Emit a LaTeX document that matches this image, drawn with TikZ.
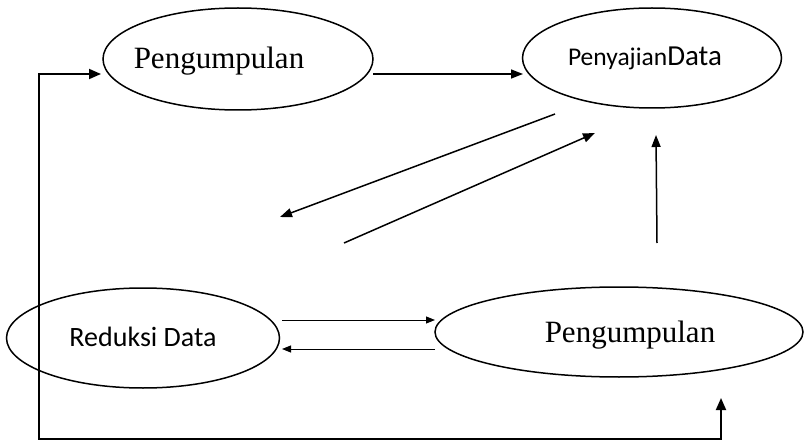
\documentclass[tikz,border=0pt]{standalone}
\usepackage{fontspec}
\setmainfont{Liberation Serif}
\newfontfamily\calib{Carlito}
\usetikzlibrary{shapes.geometric,arrows.meta}
\begin{document}
\begin{tikzpicture}[x=1pt,y=-1pt,
  oval/.style={draw,ellipse,line width=1.5pt,inner sep=0pt},
  conn/.style={line width=1.5pt,-{Triangle[length=12pt,width=9pt]}},
  thinconn/.style={line width=1pt,-{Triangle[length=9pt,width=7pt]}},
  lbl/.style={anchor=base,inner sep=0pt}]
\useasboundingbox (0,0) rectangle (804,441);
% ellipses
\node[oval,minimum width=270pt,minimum height=102pt] (e1) at (238,59) {};
\node[oval,minimum width=259pt,minimum height=100pt] (e2) at (652,58) {};
\node[oval,minimum width=273pt,minimum height=100pt] (e3) at (143,338) {};
\node[oval,minimum width=368pt,minimum height=90pt] (e4) at (619,332) {};
% labels
\node[lbl] (t1) at (219,69) {\fontsize{31}{31}\selectfont Pengumpulan};
\node[lbl] (t2) at (645,66) {\calib\fontsize{25.5}{25.5}\selectfont Penyajian\fontsize{29}{29}\selectfont Data};
\node[lbl] (t3) at (143,346) {\calib\fontsize{28}{28}\selectfont Reduksi Data};
\node[lbl] (t4) at (630,342) {\fontsize{31}{31}\selectfont Pengumpulan};
% coordinates
\coordinate (a1s) at (373,74);
\coordinate (a1e) at (523,74);
\coordinate (d1s) at (555,114);
\coordinate (d1e) at (280,217);
\coordinate (d2s) at (344,243);
\coordinate (d2e) at (595,133);
\coordinate (vs) at (657,243);
\coordinate (ve) at (656,135);
\coordinate (r1s) at (282,320);
\coordinate (r1e) at (435,320);
\coordinate (r2s) at (435,349);
\coordinate (r2e) at (282,349);
\coordinate (lpA) at (721,398);
\coordinate (lpB) at (721,439);
\coordinate (lpC) at (39,439);
\coordinate (lpD) at (39,74);
\coordinate (lpE) at (101,74);
% connectors
\draw[conn] (a1s) -- (a1e);
\draw[conn] (d1s) -- (d1e);
\draw[conn] (d2s) -- (d2e);
\draw[conn] (vs) -- (ve);
\draw[thinconn] (r1s) -- (r1e);
\draw[thinconn] (r2s) -- (r2e);
\draw[line width=1.8pt,{Triangle[length=12pt,width=10pt]}-{Triangle[length=12pt,width=10pt]}] (lpA) -- (lpB) -- (lpC) -- (lpD) -- (lpE);
\end{tikzpicture}
\end{document}
